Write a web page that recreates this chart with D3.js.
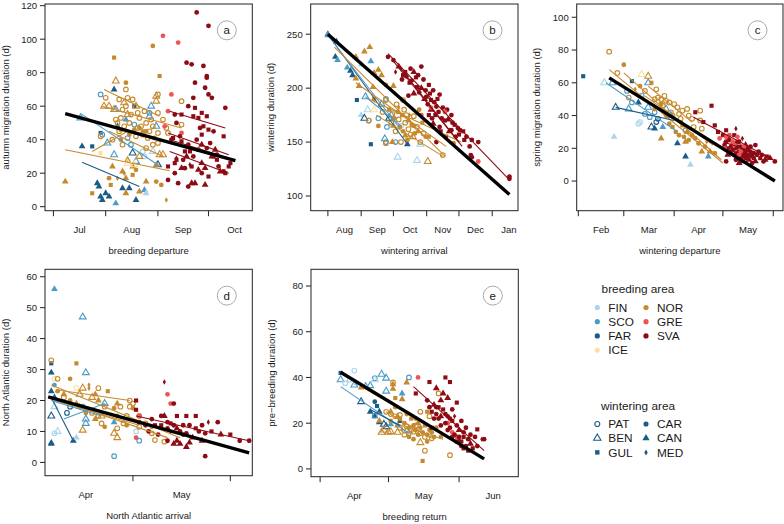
<!DOCTYPE html>
<html><head><meta charset="utf-8">
<script src="https://cdn.jsdelivr.net/npm/d3@7"></script>
<style>
body{margin:0;background:#fff}
svg{display:block}
text{font-family:"Liberation Sans",Arial,Helvetica,sans-serif;fill:#1a1a1a}
</style>
</head><body>
<svg id="chart" width="784" height="524"></svg>
<script>
// ---------- categories ----------
const breedAreas  = ["FIN","SCO","FAR","ICE","NOR","GRE","SVA"];
const breedColors = ["#a9d6ee","#4b9bc9","#1b5b87","#fde0a0","#c68a2e","#ef5454","#8c0b14"];
const winterAreas = ["PAT","BEN","GUL","CAR","CAN","MED"];

// ---------- panel a: autumn migration duration vs breeding departure ----------
const monthsA = ["Jul","Aug","Sep","Oct"];
const ptsA = [
["07-18",36,"FAR","CAN"],["07-24",36,"FAR","GUL"],["07-27",14,"FAR","CAN"],["07-28",12,"FAR","CAN"],["07-29",6,"FAR","CAN"],["07-30",4,"FAR","CAN"],
["08-01",8,"FAR","CAN"],["08-03",6,"FAR","CAN"],["08-07",2,"SCO","CAN"],["08-06",70,"FAR","CAN"],["07-29",44,"FAR","GUL"],["08-11",11,"FAR","CAN"],
["08-15",11,"FAR","CAN"],["08-19",4,"FAR","CAN"],["08-24",10,"SCO","CAN"],["08-25",8,"FIN","CAN"],["08-18",60,"FAR","GUL"],["07-29",67,"SCO","PAT"],
["07-30",43,"SCO","PAT"],["08-14",41,"SCO","PAT"],["08-16",37,"SCO","PAT"],["08-18",49,"SCO","PAT"],["08-23",33,"FIN","PAT"],["08-24",30,"FIN","PAT"],
["08-07",58,"SCO","BEN"],["08-02",38,"SCO","BEN"],["08-06",31,"SCO","BEN"],["08-17",32,"FAR","BEN"],["08-19",27,"SCO","BEN"],["08-28",60,"SCO","BEN"],
["08-31",48,"SCO","BEN"],["09-01",25,"FAR","BEN"],["07-17",53,"SCO","BEN"],["08-08",48,"FAR","CAN"],["08-27",56,"SCO","PAT"],["08-29",33,"FIN","BEN"],
["08-27",54,"SCO","BEN"],["08-13",52,"SCO","CAN"],
["07-08",15,"NOR","CAN"],["08-06",89,"NOR","GUL"],["08-07",75,"NOR","BEN"],["08-13",74,"NOR","CAR"],["08-29",96,"NOR","CAR"],["09-02",78,"NOR","GUL"],
["07-31",60,"NOR","BEN"],["08-03",60,"NOR","BEN"],["08-06",58,"NOR","BEN"],["08-12",62,"NOR","BEN"],["08-19",60,"NOR","BEN"],["08-31",66,"NOR","BEN"],
["08-31",63,"NOR","BEN"],["09-02",31,"NOR","BEN"],["09-04",31,"NOR","BEN"],["08-21",30,"NOR","BEN"],["08-13",70,"NOR","PAT"],["08-14",65,"NOR","PAT"],
["08-01",65,"NOR","PAT"],["08-09",64,"NOR","PAT"],["08-17",64,"NOR","PAT"],["08-13",60,"NOR","PAT"],["08-11",58,"NOR","PAT"],["08-16",55,"NOR","PAT"],
["08-21",53,"NOR","PAT"],["08-25",50,"NOR","PAT"],["08-28",52,"NOR","PAT"],["09-01",56,"NOR","PAT"],["09-01",67,"NOR","PAT"],["09-04",52,"NOR","PAT"],
["09-06",47,"NOR","PAT"],["09-07",44,"NOR","PAT"],["09-01",44,"NOR","PAT"],["08-29",48,"NOR","PAT"],["08-27",45,"NOR","PAT"],["08-23",43,"NOR","PAT"],
["08-19",42,"NOR","PAT"],["08-11",37,"NOR","PAT"],["08-05",40,"NOR","PAT"],["07-29",42,"NOR","PAT"],["08-29",37,"NOR","PAT"],["09-01",38,"NOR","PAT"],
["08-25",35,"NOR","PAT"],["09-15",63,"NOR","PAT"],["09-15",49,"NOR","PAT"],["08-08",50,"NOR","PAT"],["08-20",47,"NOR","PAT"],["08-10",53,"NOR","PAT"],
["08-09",45,"NOR","PAT"],["08-12",48,"NOR","PAT"],["08-15",50,"NOR","PAT"],["08-22",48,"NOR","PAT"],["08-26",41,"NOR","PAT"],["08-14",55,"NOR","BEN"],
["08-20",56,"NOR","PAT"],["08-07",52,"NOR","PAT"],["08-24",57,"NOR","PAT"],
["08-21",47,"NOR","CAR"],["08-10",40,"NOR","CAR"],["08-03",17,"NOR","CAR"],["08-19",22,"NOR","CAR"],["08-31",15,"NOR","CAR"],["09-03",13,"NOR","CAR"],
["08-15",43,"NOR","CAR"],["08-25",45,"NOR","CAR"],["08-30",41,"NOR","CAR"],["08-18",46,"NOR","CAR"],["09-06",4,"NOR","MED"],["08-08",17,"NOR","MED"],["08-12",20,"NOR","MED"],
["08-04",13,"NOR","GUL"],["07-24",8,"NOR","GUL"],["08-17",19,"NOR","GUL"],["08-10",46,"NOR","GUL"],["08-23",45,"NOR","GUL"],["08-11",21,"NOR","CAN"],
["08-13",17,"NOR","CAN"],["08-14",28,"NOR","CAN"],["08-31",25,"NOR","CAN"],["08-25",15,"NOR","CAN"],["08-21",9,"NOR","CAN"],["08-13",8,"NOR","CAN"],
["08-17",24,"NOR","CAN"],["08-05",24,"NOR","CAN"],
["08-14",26,"ICE","BEN"],["07-29",32,"ICE","GUL"],["08-18",25,"ICE","BEN"],
["09-04",102,"GRE","CAR"],["09-13",98,"GRE","CAR"],["09-09",67,"GRE","CAR"],["09-07",57,"GRE","CAR"],["09-15",44,"GRE","CAR"],["09-05",48,"GRE","CAR"],
["09-24",116,"SVA","CAR"],["10-01",108,"SVA","CAR"],["09-18",86,"SVA","CAR"],["09-21",85,"SVA","CAR"],["09-28",84,"SVA","CAR"],["09-23",74,"SVA","CAR"],
["09-30",78,"SVA","CAR"],["09-30",77,"SVA","CAR"],["09-29",71,"SVA","CAR"],["09-22",65,"SVA","CAR"],["10-01",67,"SVA","CAR"],["10-03",65,"SVA","CAR"],
["10-11",59,"SVA","CAR"],["09-19",60,"SVA","CAR"],["09-11",55,"SVA","CAR"],["09-12",50,"SVA","CAR"],["09-14",42,"SVA","CAR"],["09-19",37,"SVA","CAR"],
["09-09",40,"SVA","CAR"],["09-11",20,"SVA","CAR"],["09-07",16,"SVA","CAR"],["09-13",14,"SVA","CAR"],["09-16",28,"SVA","CAR"],["09-22",30,"SVA","CAR"],
["09-25",34,"SVA","CAR"],["09-30",35,"SVA","CAR"],["10-04",45,"SVA","CAR"],["10-06",31,"SVA","CAR"],["09-19",12,"SVA","CAR"],["09-27",20,"SVA","CAR"],
["10-07",24,"SVA","CAR"],["10-10",21,"SVA","CAR"],["09-26",47,"SVA","CAR"],["09-24",40,"SVA","CAR"],["10-02",38,"SVA","CAR"],["09-17",23,"SVA","CAR"],
["09-23",59,"SVA","GUL"],["09-27",56,"SVA","GUL"],["09-30",54,"SVA","GUL"],["09-22",54,"SVA","GUL"],["09-25",53,"SVA","GUL"],["09-15",55,"SVA","GUL"],
["09-28",48,"SVA","GUL"],["10-01",46,"SVA","GUL"],["09-27",43,"SVA","GUL"],["10-10",42,"SVA","GUL"],["09-15",39,"SVA","GUL"],["09-12",28,"SVA","GUL"],
["09-17",33,"SVA","GUL"],["09-07",24,"SVA","GUL"],["09-11",26,"SVA","GUL"],["09-21",24,"SVA","GUL"],["10-01",18,"SVA","GUL"],["10-06",28,"SVA","GUL"],
["10-13",24,"SVA","GUL"],["10-14",26,"SVA","GUL"],["10-11",20,"SVA","GUL"],["09-10",41,"SVA","GUL"],["09-20",33,"SVA","GUL"],["10-04",30,"SVA","GUL"],
["09-21",14,"SVA","CAN"],["09-23",14,"SVA","CAN"],["09-29",13,"SVA","CAN"],["09-25",22,"SVA","CAN"],["09-29",23,"SVA","CAN"],["09-15",23,"SVA","CAN"],
["09-27",26,"SVA","CAN"],["10-03",30,"SVA","CAN"],["10-08",21,"SVA","CAN"],["09-27",37,"SVA","CAN"],["09-18",30,"SVA","CAN"],["10-05",34,"SVA","CAN"],
["09-12",29,"SVA","MED"],["09-20",25,"SVA","MED"]
];
const linesA = [
["NOR","07-31",70,"09-02",54],["NOR","07-30",60,"09-15",47],["NOR","07-24",33,"08-14",45],["NOR","07-08",34,"09-08",21.5],["NOR","08-03",45,"09-04",30],
["SCO","07-17",55.7,"09-02",24.3],["FAR","07-18",26.5,"08-21",12],
["SVA","09-08",57,"10-11",47],["SVA","09-07",44,"10-13",31],["SVA","09-08",40,"10-13",29],["SVA","09-08",33,"10-13",20]
];
const trendA = [["07-08",55.5],["10-17",27.5]];

// ---------- panel b: wintering duration vs wintering arrival ----------
const monthsB = ["Aug","Sep","Oct","Nov","Dec","Jan"];
const ptsB = [
["08-01",250,"FAR","CAN"],["08-01",249,"SCO","CAN"],["08-09",243,"FAR","CAN"],["08-08",229,"FAR","CAN"],["08-10",226,"SCO","CAN"],["08-19",219,"SCO","CAN"],
["08-22",216,"FAR","CAN"],["08-24",212,"FAR","CAN"],["09-01",222,"FIN","CAN"],["09-10",225,"SCO","CAN"],["09-01",175,"FIN","CAN"],["08-28",189,"FAR","GUL"],
["09-10",148,"FAR","GUL"],["09-05",192,"SCO","BEN"],["09-04",172,"FAR","BEN"],["09-07",180,"FIN","BEN"],["09-08",170,"SCO","PAT"],["09-17",172,"SCO","PAT"],
["09-25",164,"SCO","PAT"],["09-24",190,"SCO","PAT"],["10-03",150,"SCO","PAT"],["09-24",150,"SCO","PAT"],["09-23",153,"SCO","BEN"],["10-05",136,"FIN","BEN"],
["10-23",133,"FIN","BEN"],["10-26",148,"FIN","BEN"],["10-14",148,"FAR","CAN"],["09-27",172,"FAR","BEN"],["09-29",175,"SCO","BEN"],["09-20",185,"SCO","BEN"],
["10-08",165,"FIN","PAT"],["09-13",180,"ICE","BEN"],
["08-27",229,"NOR","CAN"],["09-04",234,"NOR","CAN"],["09-09",238,"NOR","CAN"],["08-27",209,"NOR","CAN"],["08-30",202,"NOR","CAN"],["09-13",214,"NOR","CAN"],
["09-12",201,"NOR","CAN"],["10-01",202,"NOR","CAN"],["09-17",217,"NOR","CAN"],["09-20",212,"NOR","CAN"],["11-02",132,"NOR","BEN"],["10-19",155,"NOR","BEN"],
["09-24",189,"NOR","PAT"],["10-10",189,"NOR","PAT"],["10-11",180,"NOR","PAT"],["09-08",170,"NOR","PAT"],["09-24",149,"NOR","PAT"],["10-20",174,"NOR","PAT"],
["10-23",164,"NOR","PAT"],["10-29",158,"NOR","PAT"],["11-16",138,"NOR","PAT"],["10-03",160,"NOR","PAT"],["10-06",171,"NOR","PAT"],["10-12",168,"NOR","PAT"],
["10-15",162,"NOR","PAT"],["10-17",157,"NOR","PAT"],["09-29",168,"NOR","PAT"],["09-30",176,"NOR","PAT"],["10-04",185,"NOR","PAT"],["10-26",150,"NOR","PAT"],
["09-21",178,"NOR","PAT"],["10-08",150,"NOR","PAT"],["10-13",175,"NOR","PAT"],
["09-17",165,"NOR","CAR"],["09-24",203,"NOR","CAR"],["09-13",190,"NOR","CAR"],["10-07",164,"NOR","CAR"],["10-14",152,"NOR","CAR"],["10-25",180,"NOR","CAR"],
["10-31",155,"NOR","CAR"],["11-26",149,"NOR","CAR"],["10-02",172,"NOR","CAR"],["10-10",160,"NOR","CAR"],["10-18",166,"NOR","CAR"],["10-21",158,"NOR","CAR"],
["09-27",180,"NOR","CAR"],["10-05",178,"NOR","CAR"],["10-20",165,"NOR","GUL"],["11-03",155,"NOR","GUL"],["10-28",168,"NOR","GUL"],["10-09",175,"NOR","GUL"],
["10-15",170,"NOR","CAN"],["10-24",160,"NOR","CAN"],["10-01",165,"NOR","CAN"],["10-12",156,"NOR","CAN"],["09-30",150,"NOR","CAN"],["10-06",182,"NOR","MED"],
["10-16",175,"NOR","MED"],
["09-26",229,"SVA","CAR"],["10-01",226,"SVA","CAR"],["10-06",220,"SVA","CAN"],["10-10",212,"SVA","GUL"],["10-17",218,"SVA","CAR"],["10-20",215,"SVA","CAN"],
["10-27",220,"SVA","CAR"],["11-03",203,"SVA","GUL"],["10-29",208,"SVA","CAR"],["10-23",201,"SVA","GUL"],["10-13",211,"SVA","CAR"],["10-09",208,"SVA","CAR"],
["11-07",198,"SVA","CAR"],["11-13",194,"SVA","CAR"],["11-05",189,"SVA","GUL"],["11-01",192,"SVA","GUL"],["11-10",183,"SVA","CAR"],["11-20",180,"SVA","CAR"],
["11-24",175,"SVA","CAR"],["11-18",170,"SVA","GUL"],["11-13",164,"SVA","CAR"],["11-07",167,"SVA","CAN"],["11-24",161,"SVA","CAR"],["11-28",155,"SVA","CAR"],
["11-19",155,"SVA","GUL"],["12-02",161,"SVA","CAR"],["12-05",160,"SVA","GUL"],["12-08",155,"SVA","CAR"],["12-13",152,"SVA","CAR"],["12-19",150,"SVA","CAR"],
["12-11",146,"SVA","CAR"],["12-12",138,"SVA","CAR"],["12-13",136,"SVA","CAR"],["01-17",116,"SVA","CAR"],["01-17",118,"SVA","CAR"],["10-20",195,"SVA","CAN"],
["10-25",196,"SVA","CAR"],["10-30",190,"SVA","CAN"],["11-02",185,"SVA","CAR"],["10-16",205,"SVA","GUL"],["11-09",175,"SVA","GUL"],["11-15",172,"SVA","CAR"],
["11-27",166,"SVA","GUL"],["12-01",157,"SVA","GUL"],["11-22",160,"SVA","CAN"],["11-03",175,"SVA","GUL"],["11-10",150,"SVA","CAR"],["10-15",193,"SVA","CAR"],
["11-05",180,"SVA","CAN"],["10-27",200,"SVA","CAN"],["11-12",178,"SVA","CAR"],["10-03",215,"SVA","MED"],["10-08",218,"SVA","MED"],
["10-12",215,"SVA","GUL"],["10-18",207,"SVA","CAR"],["10-22",210,"SVA","GUL"],["10-31",198,"SVA","CAR"],["11-04",195,"SVA","GUL"],["11-08",187,"SVA","CAR"],
["11-11",190,"SVA","GUL"],["11-16",182,"SVA","CAR"],["11-21",171,"SVA","CAN"],["11-25",168,"SVA","CAR"],["11-30",163,"SVA","CAR"],["12-06",152,"SVA","GUL"],
["10-24",212,"SVA","CAR"],["11-06",172,"SVA","CAR"],["11-14",160,"SVA","GUL"],
["10-27",175,"GRE","CAR"],["12-19",132,"GRE","CAR"],["11-05",182,"GRE","CAR"],["11-18",178,"GRE","CAR"]
];
const linesB = [
["FAR","08-01",250,"10-14",148],["SCO","08-01",249,"10-06",164],["SCO","09-05",192,"10-08",165],
["NOR","08-07",238,"11-18",137],["NOR","08-27",205,"11-19",146],["NOR","09-08",190,"12-03",150],["NOR","09-15",175,"11-16",137],
["SVA","09-26",232,"01-17",115],["SVA","10-01",225,"12-04",146],["SVA","10-08",218,"12-01",150]
];
const trendB = [["08-01",250],["01-17",101.5]];

// ---------- panel c: spring migration duration vs wintering departure ----------
const monthsC = ["Feb","Mar","Apr","May"];
const ptsC = [
["02-04",64,"FAR","GUL"],["02-17",60,"FIN","BEN"],["02-22",60,"SCO","BEN"],["02-23",27,"FIN","CAN"],["02-24",45,"FAR","BEN"],["03-04",44,"SCO","BEN"],
["03-10",35,"FIN","PAT"],["03-11",36,"FIN","PAT"],["03-16",45,"SCO","BEN"],["03-16",60,"SCO","BEN"],["03-18",33,"FAR","BEN"],["03-27",44,"SCO","BEN"],
["03-03",55,"SCO","PAT"],["03-17",39,"SCO","PAT"],["03-20",42,"SCO","PAT"],["03-14",41,"SCO","PAT"],["03-10",48,"FAR","CAN"],["03-20",32,"FAR","CAN"],
["04-03",23,"FAR","CAN"],["04-08",15,"FAR","CAN"],["04-11",10,"FIN","CAN"],["04-22",15,"SCO","CAN"],["03-06",61,"FAR","GUL"],["04-08",31,"SCO","PAT"],
["03-22",38,"FAR","PAT"],["03-25",33,"SCO","CAN"],["03-06",48,"SCO","PAT"],["03-12",52,"SCO","PAT"],["03-30",40,"SCO","BEN"],["03-21",36,"FAR","PAT"],
["02-20",79,"NOR","PAT"],["02-25",66,"NOR","PAT"],["03-01",71,"NOR","CAR"],["03-04",51,"NOR","PAT"],["03-16",64,"NOR","BEN"],["03-12",65,"ICE","BEN"],
["03-18",60,"NOR","GUL"],["03-21",56,"NOR","PAT"],["03-22",51,"NOR","PAT"],["03-24",50,"NOR","PAT"],["03-27",49,"NOR","PAT"],["03-29",48,"NOR","PAT"],
["04-01",47,"NOR","PAT"],["04-03",45,"NOR","PAT"],["04-06",43,"NOR","PAT"],["04-09",44,"NOR","PAT"],["04-10",40,"NOR","PAT"],["04-12",38,"NOR","PAT"],
["04-17",43,"NOR","PAT"],["04-17",37,"NOR","PAT"],["04-13",33,"NOR","PAT"],["04-18",32,"NOR","PAT"],["03-25",46,"NOR","PAT"],["03-30",42,"NOR","PAT"],
["04-05",38,"NOR","PAT"],["03-20",50,"NOR","PAT"],["03-26",52,"NOR","PAT"],["03-31",40,"NOR","PAT"],["04-04",41,"NOR","PAT"],["03-14",55,"NOR","PAT"],
["03-24",26,"NOR","CAN"],["04-04",28,"NOR","CAR"],["04-07",27,"NOR","CAR"],["04-08",24,"NOR","CAN"],["04-10",25,"NOR","CAR"],["04-16",23,"NOR","CAR"],
["04-20",21,"NOR","CAR"],["04-23",18,"NOR","CAN"],["04-26",17,"NOR","CAR"],["04-18",18,"NOR","CAN"],["04-02",30,"NOR","CAR"],["03-29",35,"NOR","CAR"],
["04-06",34,"NOR","GUL"],["04-12",28,"NOR","CAR"],["03-27",40,"NOR","CAR"],["03-31",33,"NOR","GUL"],["04-14",26,"NOR","CAR"],["03-20",44,"NOR","CAR"],
["04-05",36,"NOR","CAR"],["03-24",47,"NOR","GUL"],["04-09",30,"NOR","CAN"],["04-21",24,"NOR","MED"],["03-11",58,"NOR","CAR"],["03-08",56,"NOR","MED"],
["04-14",42,"SVA","GUL"],["04-24",46,"SVA","GUL"],["04-19",36,"SVA","GUL"],["04-26",34,"SVA","GUL"],["05-03",12,"SVA","CAR"],["05-03",31,"SVA","GUL"],
["05-09",32,"SVA","MED"],["05-21",22,"SVA","CAR"],["06-02",12,"SVA","CAR"],["05-30",14,"SVA","CAN"],["05-02",22,"SVA","CAR"],["05-04",20,"SVA","GUL"],
["05-05",25,"SVA","CAR"],["05-06",18,"SVA","CAR"],["05-07",22,"SVA","GUL"],["05-08",16,"SVA","CAR"],["05-09",20,"SVA","CAR"],["05-10",14,"SVA","CAN"],
["05-10",24,"SVA","GUL"],["05-11",18,"SVA","CAR"],["05-12",15,"SVA","GUL"],["05-12",21,"SVA","CAR"],["05-13",12,"SVA","CAN"],["05-14",17,"SVA","CAR"],
["05-14",19,"SVA","GUL"],["05-15",14,"SVA","CAR"],["05-16",16,"SVA","GUL"],["05-16",20,"SVA","CAR"],["05-17",13,"SVA","CAN"],["05-18",18,"SVA","CAR"],
["05-19",15,"SVA","GUL"],["05-20",17,"SVA","CAR"],["05-21",12,"SVA","CAN"],["05-22",16,"SVA","CAR"],["05-24",14,"SVA","GUL"],["05-26",12,"SVA","CAR"],
["05-28",15,"SVA","GUL"],["05-11",11,"SVA","CAN"],["05-05",17,"SVA","CAN"],["05-08",28,"SVA","GUL"],["05-15",22,"SVA","CAN"],["05-19",11,"SVA","CAR"],
["05-13",26,"SVA","MED"],["05-09",13,"SVA","CAR"],["05-17",19,"SVA","MED"],
["05-01",28,"SVA","GUL"],["05-03",24,"SVA","CAR"],["05-04",27,"SVA","CAR"],["05-06",21,"SVA","GUL"],["05-07",19,"SVA","CAR"],["05-08",23,"SVA","CAR"],
["05-09",17,"SVA","GUL"],["05-10",21,"SVA","CAR"],["05-11",24,"SVA","CAR"],["05-12",17,"SVA","CAN"],["05-13",20,"SVA","CAR"],["05-14",15,"SVA","GUL"],
["05-15",18,"SVA","CAR"],["05-16",14,"SVA","CAR"],["05-18",16,"SVA","GUL"],["05-18",21,"SVA","CAR"],["05-20",14,"SVA","GUL"],["05-23",18,"SVA","CAR"],
["05-25",16,"SVA","CAR"],["05-27",13,"SVA","CAN"],["04-28",30,"SVA","GUL"],["05-04",16,"SVA","CAN"],
["04-29",26,"GRE","CAR"],["05-05",28,"GRE","CAR"],["05-10",27,"GRE","CAR"],["05-07",24,"GRE","CAR"],["05-02",20,"GRE","CAR"],["05-12",18,"GRE","CAR"],
["05-08",22,"GRE","CAR"],["05-14",21,"GRE","CAR"],["05-03",27,"GRE","CAR"],["05-11",16,"GRE","CAR"]
];
const linesC = [
["NOR","02-20",68,"05-01",11],["NOR","03-01",66,"04-30",13],["NOR","03-14",52,"04-25",22],["NOR","03-16",58,"04-12",36],
["SCO","02-18",60,"04-03",30],["FAR","02-24",45,"04-01",37],
["SVA","04-13",39,"06-01",13],["SVA","05-01",24,"05-31",14]
];
const trendC = [["02-20",63],["06-02",0]];

// ---------- panel d: North Atlantic duration vs North Atlantic arrival ----------
const monthsD = ["Apr","May"];
const ptsD = [
["04-06",56,"SCO","CAN"],["04-15",47,"SCO","BEN"],["04-16",29,"SCO","BEN"],["04-05",32,"FAR","GUL"],["04-05",29,"FAR","CAN"],["04-05",23,"FAR","CAN"],
["04-05",6,"FAR","CAN"],["04-05",6.3,"FAR","CAN"],["04-06",27,"ICE","PAT"],["04-06",9.4,"FIN","PAT"],["04-07",10,"FIN","BEN"],["04-06",25,"SCO","CAR"],
["04-10",16,"FAR","PAT"],["04-12",7,"FAR","CAN"],["04-13",8,"FIN","CAN"],["04-16",14,"SCO","BEN"],["04-15",18,"SCO","PAT"],["04-16",12.6,"SCO","BEN"],
["04-25",2,"SCO","PAT"],["05-02",10,"FIN","PAT"],["04-22",19,"SCO","BEN"],["04-25",13,"SCO","CAN"],["05-03",7,"SCO","PAT"],["04-06",18,"FIN","BEN"],
["04-05",15,"FAR","BEN"],["04-13",24,"ICE","PAT"],["04-06",21,"FAR","CAN"],["04-11",18,"FAR","PAT"],
["04-05",33,"NOR","PAT"],["04-07",27,"NOR","PAT"],["04-11",27,"NOR","CAR"],["04-13",32,"NOR","GUL"],["04-07",23,"NOR","CAR"],["04-09",22,"NOR","CAN"],
["04-11",20,"NOR","CAR"],["04-14",18,"NOR","CAN"],["04-15",24,"NOR","BEN"],["04-17",25,"NOR","MED"],["04-20",24,"NOR","PAT"],["04-23",23,"NOR","GUL"],
["04-20",15,"NOR","PAT"],["04-21",12.6,"NOR","PAT"],["04-22",11.5,"NOR","CAR"],["04-25",9.4,"NOR","BEN"],["04-26",11,"NOR","PAT"],["04-28",12.6,"NOR","PAT"],
["04-29",15,"NOR","PAT"],["04-30",20,"NOR","PAT"],["05-01",19,"NOR","PAT"],["05-01",17.5,"NOR","CAR"],["05-03",15,"NOR","PAT"],["05-05",12.6,"NOR","PAT"],
["05-07",11.5,"NOR","CAR"],["05-07",9.4,"NOR","PAT"],["05-08",7.2,"NOR","PAT"],["05-11",6.7,"NOR","PAT"],["04-26",19,"NOR","CAN"],["04-27",18,"NOR","PAT"],
["04-25",17.5,"NOR","CAR"],["04-30",18,"NOR","PAT"],["04-19",22,"NOR","CAN"],["04-15",10.4,"NOR","BEN"],["04-17",24,"NOR","MED"],["04-21",15,"NOR","BEN"],
["04-19",14,"NOR","CAN"],["04-20",20,"NOR","CAN"],["04-22",18,"NOR","PAT"],["04-13",19,"NOR","CAN"],["04-09",21,"NOR","PAT"],["04-16",16,"NOR","CAR"],
["04-26",15,"NOR","CAR"],["04-29",12,"NOR","CAR"],["05-03",11.5,"NOR","PAT"],["04-26",8,"NOR","BEN"],["04-18",16,"NOR","PAT"],["04-14",22,"NOR","BEN"],
["04-18",21,"NOR","BEN"],
["05-03",15,"GRE","CAR"],["05-02",8,"GRE","CAR"],["05-12",22,"GRE","CAR"],["05-13",19,"GRE","CAR"],
["05-02",17,"SVA","GUL"],["05-02",20,"SVA","GUL"],["05-11",26,"SVA","MED"],["05-14",19,"SVA","CAR"],["05-07",14,"SVA","CAR"],["05-10",15,"SVA","CAR"],
["05-10",12,"SVA","GUL"],["05-12",13,"SVA","CAR"],["05-12",11,"SVA","CAR"],["05-13",12.6,"SVA","GUL"],["05-14",12,"SVA","CAR"],["05-15",15,"SVA","GUL"],
["05-16",10,"SVA","CAR"],["05-17",9,"SVA","CAR"],["05-18",5,"SVA","CAN"],["05-19",6.4,"SVA","CAN"],["05-18",9.4,"SVA","CAR"],["05-18",15,"SVA","GUL"],
["05-21",15,"SVA","GUL"],["05-22",10,"SVA","CAR"],["05-23",12,"SVA","CAR"],["05-24",9.4,"SVA","CAR"],["05-24",2,"SVA","CAR"],["05-26",10,"SVA","GUL"],
["05-28",13,"SVA","CAR"],["06-01",9,"SVA","GUL"],["06-04",7,"SVA","CAR"],["06-07",7,"SVA","CAR"],["05-23",7,"SVA","CAN"],["05-16",6,"SVA","CAN"],
["05-20",8,"SVA","CAN"],["05-14",6,"SVA","CAN"],["05-15",7,"SVA","CAN"],["05-12",7,"SVA","CAR"],["05-06",10,"SVA","CAR"],["05-08",12,"SVA","GUL"],
["05-09",9,"SVA","CAR"],["05-11",15,"SVA","CAN"],["05-13",10,"SVA","MED"],["05-19",12,"SVA","CAR"],["05-21",11,"SVA","GUL"],["05-25",13,"SVA","MED"],
["05-17",12,"SVA","CAR"],["05-15",11,"SVA","CAN"],["05-03",13,"SVA","CAR"],["05-05",12,"SVA","CAR"],["05-29",9,"SVA","CAN"]
];
const linesD = [
["NOR","04-05",25,"05-16",8],["NOR","04-07",23.4,"04-30",20],["NOR","04-05",21,"05-12",8],["NOR","04-06",20,"05-03",12],
["FAR","04-05",21,"04-12",7],["SCO","04-09",14,"04-22",19],["SCO","04-05",20,"04-21",15],
["SVA","05-02",15,"06-07",7]
];
const trendD = [["04-04",21.2],["06-07",3.1]];

// ---------- panel e: pre-breeding duration vs breeding return ----------
const monthsE = ["Apr","May","Jun"];
const ptsE = [
["04-10",42,"FAR","GUL"],["04-10",39,"SCO","BEN"],["04-16",43,"FIN","PAT"],["04-14",39,"FIN","PAT"],["04-17",37.5,"FIN","CAN"],["04-19",29.4,"FAR","BEN"],
["04-23",36.4,"SCO","BEN"],["04-25",39.7,"SCO","PAT"],["04-28",41.4,"SCO","BEN"],["04-30",39.7,"SCO","BEN"],["04-30",34,"SCO","BEN"],["04-25",29.4,"FAR","CAR"],
["04-23",25,"FAR","CAN"],["04-27",25,"FAR","CAN"],["04-25",23,"FAR","CAN"],["04-27",20.4,"FAR","CAN"],["04-29",19.5,"FAR","BEN"],["04-30",18.5,"FAR","BEN"],
["05-02",19.5,"SCO","CAN"],["04-25",23.3,"SCO","PAT"],["05-10",15.6,"SCO","PAT"],["05-10",40,"SCO","PAT"],["05-07",33,"SCO","CAN"],["05-06",21,"FAR","GUL"],
["04-26",27.5,"FAR","GUL"],["04-12",37.5,"FIN","PAT"],["04-16",36.7,"SCO","BEN"],["04-21",36,"SCO","BEN"],["04-25",39,"FIN","BEN"],
["04-19",35.6,"NOR","CAN"],["05-03",37,"NOR","CAN"],["05-03",35,"NOR","CAN"],["05-09",37.8,"NOR","CAN"],["05-07",30.5,"NOR","CAN"],["05-04",31,"NOR","GUL"],
["05-05",23,"NOR","CAN"],["05-02",25,"NOR","CAN"],["05-02",16.3,"NOR","BEN"],["05-05",16,"NOR","BEN"],["05-09",16.6,"NOR","BEN"],["05-15",11.5,"NOR","BEN"],
["05-03",37.8,"NOR","PAT"],["04-30",25,"NOR","PAT"],["05-02",24,"NOR","PAT"],["05-04",23,"NOR","PAT"],["05-06",23.6,"NOR","PAT"],["05-09",18.5,"NOR","PAT"],
["05-12",16.3,"NOR","PAT"],["05-15",15.6,"NOR","PAT"],["05-17",14,"NOR","PAT"],["05-20",13.4,"NOR","PAT"],["05-23",33,"NOR","PAT"],["05-17",8,"NOR","PAT"],
["05-28",6,"NOR","PAT"],["05-15",25,"NOR","PAT"],["05-19",23,"NOR","PAT"],["05-16",3.5,"NOR","GUL"],
["05-08",20,"NOR","CAR"],["05-10",18,"NOR","CAR"],["05-11",22,"NOR","GUL"],["05-12",19,"NOR","CAR"],["05-13",17,"NOR","CAR"],["05-14",20,"NOR","CAN"],
["05-15",18,"NOR","CAR"],["05-16",16,"NOR","CAR"],["05-17",19,"NOR","GUL"],["05-18",15,"NOR","CAR"],["05-19",17,"NOR","CAR"],["05-20",16,"NOR","CAR"],
["05-21",14,"NOR","CAR"],["05-22",18,"NOR","CAR"],["05-24",14,"NOR","CAR"],["05-06",22,"NOR","CAR"],["05-09",24,"NOR","CAR"],["05-13",22,"NOR","CAR"],
["05-05",19,"NOR","CAN"],["05-07",17,"NOR","MED"],["05-04",27,"NOR","CAR"],["05-18",25,"NOR","GUL"],["05-02",21,"NOR","CAR"],["04-27",21,"NOR","CAN"],
["04-29",17,"NOR","BEN"],["05-01",16,"NOR","BEN"],["04-28",16,"NOR","BEN"],
["05-10",14,"NOR","CAR"],["05-12",13,"NOR","CAR"],["05-14",15,"NOR","CAR"],["05-18",12,"NOR","CAR"],["05-11",17,"NOR","PAT"],["05-13",19,"NOR","PAT"],
["05-06",18,"NOR","PAT"],["05-08",15,"NOR","PAT"],
["05-14",40,"GRE","CAR"],["05-27",20,"GRE","CAR"],["05-29",16,"GRE","CAR"],["05-31",14,"GRE","CAR"],
["05-13",33,"SVA","GUL"],["05-19",38,"SVA","GUL"],["05-26",40,"SVA","GUL"],["05-28",38,"SVA","GUL"],["05-22",35.3,"SVA","CAN"],["05-31",29,"SVA","GUL"],
["06-09",17.3,"SVA","GUL"],["05-18",30,"SVA","CAR"],["05-19",27,"SVA","CAR"],["05-20",25,"SVA","GUL"],["05-21",28,"SVA","CAN"],["05-22",24,"SVA","CAR"],
["05-23",22,"SVA","CAR"],["05-24",30,"SVA","CAN"],["05-25",26,"SVA","GUL"],["05-26",20,"SVA","CAR"],["05-27",23,"SVA","CAR"],["05-28",18,"SVA","CAR"],
["05-29",21,"SVA","GUL"],["05-30",15,"SVA","CAR"],["05-31",19,"SVA","CAR"],["06-01",14,"SVA","CAR"],["06-02",12,"SVA","GUL"],["06-03",16,"SVA","CAR"],
["06-04",10,"SVA","CAR"],["06-05",13,"SVA","CAR"],["06-06",11,"SVA","CAN"],["06-07",9,"SVA","GUL"],["06-08",14,"SVA","CAR"],["06-11",13,"SVA","MED"],
["06-12",13,"SVA","CAR"],["05-25",33,"SVA","CAN"],["05-27",31,"SVA","CAN"],["05-29",26,"SVA","CAR"],["06-02",21,"SVA","CAR"],["06-04",18,"SVA","CAR"],
["05-22",27,"SVA","CAR"],["05-30",23,"SVA","MED"],["06-01",17,"SVA","CAN"],["06-03",9,"SVA","GUL"],["06-06",15,"SVA","CAR"],["05-20",18,"SVA","GUL"],
["05-24",19,"SVA","CAR"],["06-09",10,"SVA","CAR"],
["05-21",22,"SVA","CAR"],["05-23",27,"SVA","GUL"],["05-26",24,"SVA","CAR"],["05-27",17,"SVA","CAR"],["05-29",14,"SVA","CAR"],["05-31",12,"SVA","GUL"],
["06-02",10,"SVA","CAR"],["06-05",8,"SVA","GUL"],["05-24",23,"SVA","CAN"],["05-28",22,"SVA","CAR"],["06-01",12,"SVA","CAR"],["06-03",14,"SVA","GUL"]
];
const linesE = [
["NOR","04-19",36,"06-01",11.5],["NOR","04-30",25,"05-20",13.4],["NOR","05-01",21,"05-25",13],
["SCO","04-10",36,"05-10",15.6],["FAR","04-23",26,"05-06",19],
["SVA","05-12",36,"06-12",8]
];
const trendE = [["04-10",42.3],["06-12",4.4]];

// ---------- layout ----------
const panels = [
 {tag:"a", pts:ptsA, lines:linesA, trend:trendA, months:monthsA, xLim:["06-26","10-27"], yLim:[-2.4,121], yTicks:[0,20,40,60,80,100,120],
  ytitle:"autumn migration duration (d)", xtitle:"breeding departure", box:[45,4,252.3,210.7]},
 {tag:"b", pts:ptsB, lines:linesB, trend:trendB, months:monthsB, xLim:["07-16","01-25"], yLim:[86.4,278], yTicks:[100,150,200,250],
  ytitle:"wintering duration (d)", xtitle:"wintering arrival", box:[310.7,4,518,210.7], wrap:true},
 {tag:"c", pts:ptsC, lines:linesC, trend:trendC, months:monthsC, xLim:["01-31","06-07"], yLim:[-18.1,108.1], yTicks:[0,20,40,60,80,100],
  ytitle:"spring migration duration (d)", xtitle:"wintering departure", box:[576.7,4,783,210.7]},
 {tag:"d", pts:ptsD, lines:linesD, trend:trendD, months:monthsD, xLim:["04-03","06-08"], yLim:[-4.3,62.4], yTicks:[0,10,20,30,40,50,60],
  ytitle:"North Atlantic duration (d)", xtitle:"North Atlantic arrival", box:[45,269.3,252.3,475.7]},
 {tag:"e", pts:ptsE, lines:linesE, trend:trendE, months:monthsE, xLim:["03-28","06-27"], yLim:[-3.4,87.3], yTicks:[0,20,40,60,80],
  ytitle:"pre\u2212breeding duration (d)", xtitle:"breeding return", box:[311,269.3,518.3,476.7]}
];

const color = d3.scaleOrdinal(breedAreas, breedColors);
const svg = d3.select("#chart");
const FS = 9.5;

function parser(wrap){
  return s => { const [m,d] = s.split("-").map(Number); return new Date((wrap && m < 7) ? 2016 : 2015, m-1, d); };
}
const symType = {PAT:d3.symbolCircle, BEN:d3.symbolTriangle, GUL:d3.symbolSquare, CAR:d3.symbolCircle, CAN:d3.symbolTriangle, MED:d3.symbolDiamond};
const symSize = {PAT:17, BEN:20, GUL:17, CAR:18, CAN:20, MED:9};
const hollow  = {PAT:true, BEN:true};

function drawSymbol(g, w, col, x, y, scale=1){
  const p = d3.symbol(symType[w], symSize[w]*scale)();
  const el = g.append("path").attr("d", p).attr("transform", `translate(${x},${y})`);
  if (hollow[w]) el.attr("fill","none").attr("stroke",col).attr("stroke-width",1.1);
  else el.attr("fill",col).attr("stroke","none");
}

panels.forEach(P => {
  const dt = parser(P.wrap);
  const [L,T,R,B] = P.box;
  const x = d3.scaleTime().domain(P.xLim.map(dt)).range([L,R]);
  const y = d3.scaleLinear().domain(P.yLim).range([B,T]);
  const g = svg.append("g");

  // points
  const gp = g.append("g");
  P.pts.forEach(d => drawSymbol(gp, d[3], color(d[2]), x(dt(d[0])), y(d[1])));

  // group regression lines
  g.append("g").selectAll("line").data(P.lines).join("line")
    .attr("x1", d => x(dt(d[1]))).attr("y1", d => y(d[2]))
    .attr("x2", d => x(dt(d[3]))).attr("y2", d => y(d[4]))
    .attr("stroke", d => color(d[0])).attr("stroke-width", 1.1);

  // overall trend
  g.append("path").datum(P.trend)
    .attr("d", d3.line().x(d => x(dt(d[0]))).y(d => y(d[1])))
    .attr("fill","none").attr("stroke","#000").attr("stroke-width",3.4);

  // frame
  g.append("rect").attr("x",L).attr("y",T).attr("width",R-L).attr("height",B-T)
    .attr("fill","none").attr("stroke","#222").attr("stroke-width",1);

  // y axis
  P.yTicks.forEach(v => {
    g.append("line").attr("x1",L-5).attr("x2",L).attr("y1",y(v)).attr("y2",y(v)).attr("stroke","#222");
    g.append("text").attr("x",L-8).attr("y",y(v)).attr("dy","0.35em").attr("text-anchor","end")
      .attr("font-size",FS).text(v);
  });
  // x axis: month starts as ticks, month names centred in their month
  const [x0,x1] = x.domain();
  d3.timeMonth.range(d3.timeMonth.ceil(x0), d3.timeDay.offset(x1,1)).forEach(m => {
    g.append("line").attr("x1",x(m)).attr("x2",x(m)).attr("y1",B).attr("y2",B+5.5).attr("stroke","#222");
  });
  const fmt = d3.timeFormat("%b");
  d3.timeMonth.range(d3.timeMonth.floor(x0), x1).forEach(m => {
    if (!P.months.includes(fmt(m))) return;
    const nx = d3.timeMonth.offset(m,1);
    const mid = new Date((+m + +nx)/2);
    g.append("text").attr("x",x(mid)).attr("y",B+22).attr("text-anchor","middle").attr("font-size",FS).text(fmt(m));
  });
  // titles
  g.append("text").attr("x",(L+R)/2).attr("y",B+43).attr("text-anchor","middle").attr("font-size",FS).text(P.xtitle);
  g.append("text").attr("transform",`translate(${L-36.5},${(T+B)/2}) rotate(-90)`).attr("text-anchor","middle")
    .attr("font-size",FS).text(P.ytitle);
  // panel tag
  g.append("circle").attr("cx",R-25.5).attr("cy",T+26.3).attr("r",9.5).attr("fill","#fff").attr("stroke","#aaa").attr("stroke-width",1);
  g.append("text").attr("x",R-25.5).attr("y",T+26.3).attr("dy","0.35em").attr("text-anchor","middle").attr("font-size",11.5).text(P.tag);
});

// ---------- legends ----------
const lg = svg.append("g");
const LFS = 11.8;
lg.append("text").attr("x",638).attr("y",292.5).attr("text-anchor","middle").attr("font-size",LFS).text("breeding area");
breedAreas.forEach((b,i) => {
  const col = i < 4 ? 0 : 1, row = i < 4 ? i : i-4;
  const sx = 597.3 + col*48.7, sy = 307.5 + row*14.2;
  lg.append("circle").attr("cx",sx).attr("cy",sy).attr("r",2.6).attr("fill",breedColors[i]);
  lg.append("text").attr("x",sx+11).attr("y",sy).attr("dy","0.36em").attr("font-size",LFS).text(b);
});
lg.append("text").attr("x",638).attr("y",410).attr("text-anchor","middle").attr("font-size",LFS).text("wintering area");
winterAreas.forEach((w,i) => {
  const col = i < 3 ? 0 : 1, row = i % 3;
  const sx = 597.3 + col*48.7, sy = 424 + row*14.2;
  drawSymbol(lg, w, breedColors[2], sx, sy, 1.15);
  lg.append("text").attr("x",sx+11).attr("y",sy).attr("dy","0.36em").attr("font-size",LFS).text(w);
});
</script>
</body></html>
